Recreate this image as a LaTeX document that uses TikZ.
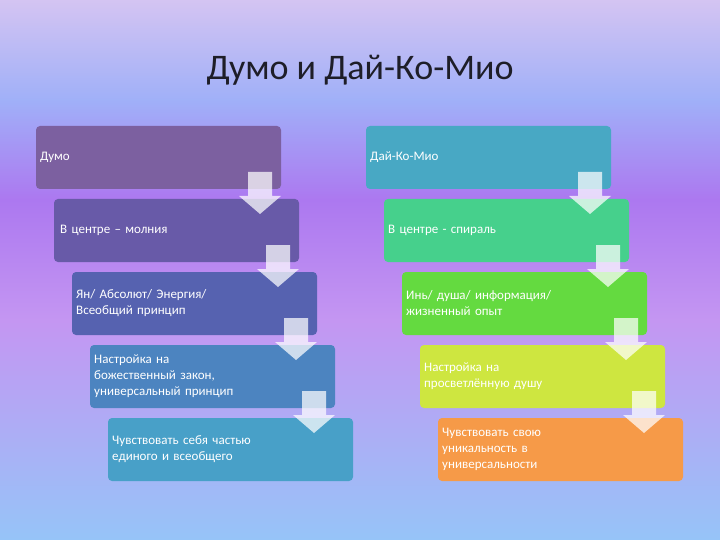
\documentclass[tikz,border=0pt]{standalone}
\usepackage{fontspec}
\setmainfont{Carlito}
\begin{document}
\begin{tikzpicture}[x=1pt,y=-1pt,
  box/.style={rounded corners=4pt,inner sep=0pt,anchor=north west,text=white,font=\fontsize{13}{16}\selectfont},
  arr/.style={fill=white,fill opacity=0.72,draw=none}]
\useasboundingbox (0,0) rectangle (720,540);
\shade[top color={rgb,255:red,212;green,196;blue,242},bottom color={rgb,255:red,160;green,176;blue,248}] (0,0) rectangle (720,100);
\shade[top color={rgb,255:red,160;green,176;blue,248},bottom color={rgb,255:red,172;green,120;blue,240}] (0,100) rectangle (720,200);
\shade[top color={rgb,255:red,172;green,120;blue,240},bottom color={rgb,255:red,196;green,150;blue,242}] (0,200) rectangle (720,320);
\shade[top color={rgb,255:red,196;green,150;blue,242},bottom color={rgb,255:red,150;green,196;blue,248}] (0,320) rectangle (720,540);
\node[font=\fontsize{36}{40}\selectfont,text={rgb,255:red,30;green,30;blue,40}] (title) at (360,70) {Думо и Дай-Ко-Мио};
\def\bx#1#2#3#4#5{%
  \fill[rounded corners=4pt,#4] (#2,#3) rectangle ++(245,63);
  \node[box,anchor=west,align=left,text width=235pt] (#1) at (#2+4,#3+31.5) {#5};}
% left column
\bx{l1}{36}{126}{fill={rgb,255:red,124;green,96;blue,160}}{Думо}
\bx{l2}{54}{199}{fill={rgb,255:red,104;green,90;blue,168}}{\hspace*{2pt}В центре – молния}
\bx{l3}{72}{272}{fill={rgb,255:red,86;green,98;blue,176}}{Ян/ Абсолют/ Энергия/\\Всеобщий принцип}
\bx{l4}{90}{345}{fill={rgb,255:red,76;green,132;blue,192}}{Настройка на\\божественный закон,\\универсальный принцип}
\bx{l5}{108}{418}{fill={rgb,255:red,72;green,160;blue,200}}{Чувствовать себя частью\\единого и всеобщего}
% right column
\bx{r1}{366}{126}{fill={rgb,255:red,72;green,168;blue,196}}{Дай-Ко-Мио}
\bx{r2}{384}{199}{fill={rgb,255:red,70;green,208;blue,140}}{В центре - спираль}
\bx{r3}{402}{272}{fill={rgb,255:red,100;green,218;blue,64}}{Инь/ душа/ информация/\\жизненный опыт}
\bx{r4}{420}{345}{fill={rgb,255:red,206;green,230;blue,64}}{Настройка на\\просветлённую душу}
\bx{r5}{438}{418}{fill={rgb,255:red,246;green,154;blue,72}}{Чувствовать свою\\уникальность в\\универсальности}
% arrows
\def\ar#1#2{\fill[arr] (#1-12,#2) -- (#1+12,#2) -- (#1+12,#2+24) -- (#1+21,#2+24) -- (#1,#2+42) -- (#1-21,#2+24) -- (#1-12,#2+24) -- cycle;}
\foreach \i in {0,1,2,3}{
  \ar{260+18*\i}{172+73*\i}
  \ar{590+18*\i}{172+73*\i}
}
\end{tikzpicture}
\end{document}
